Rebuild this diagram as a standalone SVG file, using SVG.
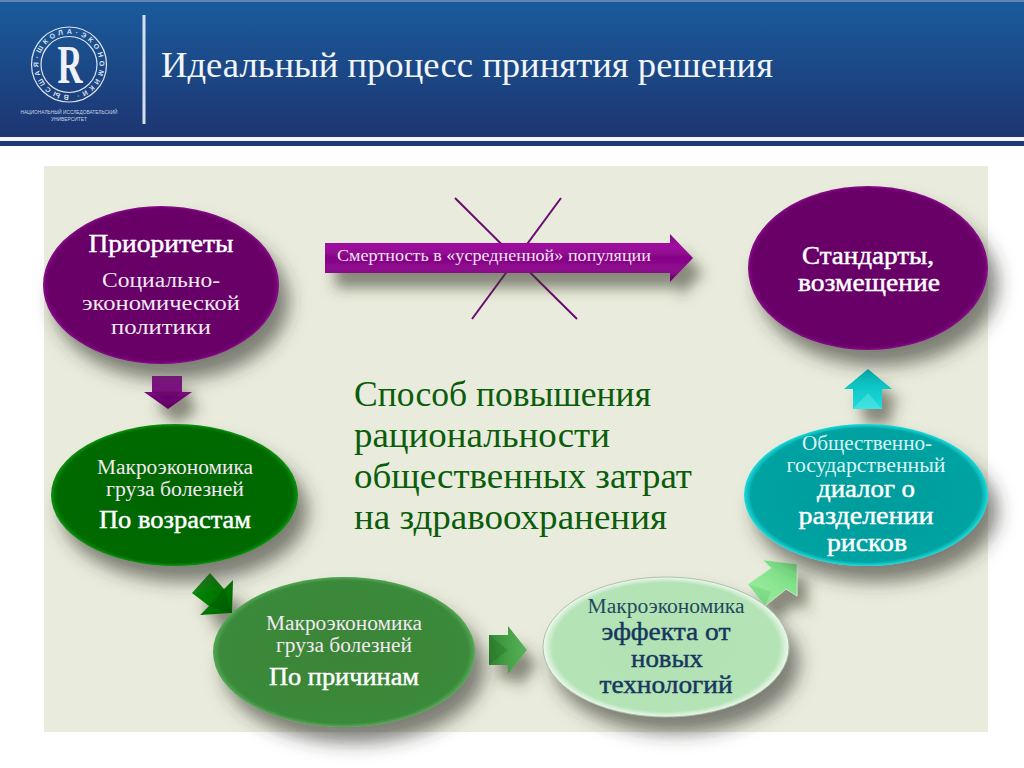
<svg xmlns="http://www.w3.org/2000/svg" xmlns:xlink="http://www.w3.org/1999/xlink" width="1024" height="768" viewBox="0 0 1024 768">
<style>
text{font-family:"Liberation Serif","Noto Sans CJK SC",serif;text-anchor:middle;fill:#fff}
.s{font-size:20px;fill:#f1e9f1}
.b{font-size:25px;stroke:#fff;stroke-width:.45}
.m{font-size:36px;fill:#0b5c0b;text-anchor:start}
.d{fill:#17375e;stroke:#17375e}
.l{font-family:"Liberation Sans",sans-serif;font-size:5px;fill:#c9d3e4}
</style>
<defs>
<linearGradient id="hdr" x1="0" y1="0" x2="0" y2="1"><stop offset="0" stop-color="#1a5b9c"/><stop offset="1" stop-color="#1d3571"/></linearGradient>
<radialGradient id="pur" cx=".5" cy=".5" r=".5"><stop offset="0" stop-color="#660066"/><stop offset=".95" stop-color="#680068"/><stop offset="1" stop-color="#820a82"/></radialGradient>
<radialGradient id="grn" cx=".5" cy=".5" r=".5"><stop offset="0" stop-color="#006400"/><stop offset=".95" stop-color="#006a00"/><stop offset="1" stop-color="#0c900c"/></radialGradient>
<radialGradient id="mid" cx=".5" cy=".5" r=".5"><stop offset="0" stop-color="#3a8438"/><stop offset=".95" stop-color="#3a8a3a"/><stop offset="1" stop-color="#55a856"/></radialGradient>
<radialGradient id="lit" cx=".5" cy=".5" r=".5"><stop offset="0" stop-color="#b2e2b4"/><stop offset=".92" stop-color="#b4e3b6"/><stop offset="1" stop-color="#eef9ee"/></radialGradient>
<radialGradient id="tea" cx=".5" cy=".5" r=".5"><stop offset="0" stop-color="#009c9c"/><stop offset=".94" stop-color="#00a2a2"/><stop offset="1" stop-color="#1cdcdc"/></radialGradient>
<linearGradient id="abar" x1="0" y1="0" x2="0" y2="1"><stop offset="0" stop-color="#7a0a7a"/><stop offset=".25" stop-color="#a010a0"/><stop offset=".5" stop-color="#860486"/><stop offset=".75" stop-color="#8f0a8f"/><stop offset="1" stop-color="#640264"/></linearGradient>
<linearGradient id="a1" x1="0" y1="0" x2="0" y2="1"><stop offset="0" stop-color="#9a10a0"/><stop offset="1" stop-color="#5c005c"/></linearGradient>
<linearGradient id="a2" x1="0" y1="0" x2="1" y2="1"><stop offset="0" stop-color="#0a9a0a"/><stop offset="1" stop-color="#005f00"/></linearGradient>
<linearGradient id="a3" x1="0" y1="0" x2="1" y2="0"><stop offset="0" stop-color="#338c33"/><stop offset="1" stop-color="#58b458"/></linearGradient>
<linearGradient id="a4" x1="0" y1="1" x2="1" y2="0"><stop offset="0" stop-color="#a6efa6"/><stop offset="1" stop-color="#6fdc7c"/></linearGradient>
<linearGradient id="a5" x1="0" y1="0" x2="0" y2="1"><stop offset="0" stop-color="#00b4b4"/><stop offset="1" stop-color="#20dcdc"/></linearGradient>
<filter id="sh" x="-30%" y="-30%" width="170%" height="180%"><feDropShadow dx="10" dy="16" stdDeviation="9" flood-color="#35352b" flood-opacity=".6"/></filter>
<filter id="sa" x="-40%" y="-80%" width="190%" height="340%"><feDropShadow dx="10" dy="15" stdDeviation="7" flood-color="#35352b" flood-opacity=".55"/></filter>
<path id="ring" d="M69 95a30.500 30.500 0 1 1 .01 0" fill="none"/>
</defs>

<rect width="1024" height="768" fill="#fff"/>
<g id="header">
<rect y="1" width="1024" height="136" fill="url(#hdr)"/>
<rect y="0" width="1024" height="2" fill="#5d86b5"/>
<rect y="137" width="1024" height="4" fill="#f4f6fa"/>
<rect y="141" width="1024" height="5" fill="#1d3a78"/>
<rect x="142.500" y="15" width="3" height="109" fill="#d6dff0"/>
</g>
<g id="logo">
<circle cx="69" cy="64.500" r="37.500" fill="none" stroke="#dbe3f0" stroke-width="1.200"/>
<circle cx="69" cy="64.500" r="28" fill="none" stroke="#dbe3f0" stroke-width="1.200"/>
<text font-size="7" font-weight="bold" style="fill:#dbe3f0;font-family:'Liberation Sans',sans-serif;text-anchor:start;letter-spacing:3.200px"><textPath xlink:href="#ring" href="#ring">ВЫСШАЯ·ШКОЛА·ЭКОНОМИКИ·</textPath></text>
<text x="70" y="83" font-size="54" font-weight="bold" style="fill:#eef2f8" textLength="25" lengthAdjust="spacingAndGlyphs">R</text>
<text x="69" y="114" class="l" textLength="97" lengthAdjust="spacingAndGlyphs">НАЦИОНАЛЬНЫЙ ИССЛЕДОВАТЕЛЬСКИЙ</text>
<text x="69" y="121" class="l" textLength="36" lengthAdjust="spacingAndGlyphs">УНИВЕРСИТЕТ</text>
</g>
<text id="title" x="161" y="77" style="text-anchor:start;font-size:36px;fill:#f2f5fa" textLength="612" lengthAdjust="spacingAndGlyphs">Идеальный процесс принятия решения</text>

<rect id="panel" x="44" y="166" width="944" height="566" fill="#e9ecdc"/>

<g id="cross" stroke="#6a0a70" stroke-width="2" fill="none">
<line x1="455" y1="198" x2="577" y2="319"/>
<line x1="561" y1="198" x2="472" y2="319"/>
</g>

<g id="connectors">
<polygon id="arrow-top" points="325,243 670,243 670,234 693,258 670,282 670,273 325,273" fill="url(#abar)" filter="url(#sa)"/>
<polygon id="c1" points="152,376 182,376 182,392 192,392 168,409 144,392 152,392" fill="url(#a1)" filter="url(#sa)"/>
<polygon points="152,392 182,392 168,400" fill="#4c004c" opacity=".25"/>
<polygon id="c2" points="192,593 210,573 224,589 233,580 232,613 200,615 209,606" fill="url(#a2)" filter="url(#sa)"/>
<polygon points="209,606 224,589 232,613" fill="#004a00" opacity=".3"/>
<polygon id="c3" points="489,635 508,635 508,626 527,650 508,674 508,665 489,665" fill="url(#a3)" filter="url(#sa)"/>
<polygon points="489,635 508,650 489,665" fill="#1f6f1f" opacity=".35"/>
<polygon id="c4" points="748,584 771,568 763,560 797,564 797,596 786,589 765,606" fill="url(#a4)" stroke="#d8f4d8" stroke-width=".6" filter="url(#sa)"/>
<polygon points="748,584 771,592 765,606" fill="#5fd070" opacity=".4"/>
<polygon id="c5" points="868,369 892,389 882,389 882,409 853,409 853,389 844,389" fill="url(#a5)" filter="url(#sa)"/>
<polygon points="853,409 868,393 882,409" fill="#7cf0f0" opacity=".35"/>
</g>
<text id="arrow-label" x="494" y="261" style="font-size:17px;fill:#f3e6f3" textLength="314" lengthAdjust="spacingAndGlyphs">Смертность в «усредненной» популяции</text>

<g id="priorities">
<ellipse cx="161" cy="285" rx="118" ry="79" fill="url(#pur)" filter="url(#sh)"/>
<text x="161" y="252" class="b" textLength="145" lengthAdjust="spacingAndGlyphs">Приоритеты</text>
<text x="161" y="287" class="s" textLength="118" lengthAdjust="spacingAndGlyphs">Социально-</text>
<text x="161" y="310" class="s" textLength="158" lengthAdjust="spacingAndGlyphs">экономической</text>
<text x="161" y="334" class="s" textLength="100" lengthAdjust="spacingAndGlyphs">политики</text>
</g>
<g id="age">
<ellipse cx="174.500" cy="495" rx="123.500" ry="71" fill="url(#grn)" filter="url(#sh)"/>
<text x="175" y="474" class="s" textLength="156" lengthAdjust="spacingAndGlyphs">Макроэкономика</text>
<text x="175" y="496" class="s" textLength="138" lengthAdjust="spacingAndGlyphs">груза болезней</text>
<text x="175" y="528" class="b" textLength="152" lengthAdjust="spacingAndGlyphs">По возрастам</text>
</g>
<g id="causes">
<ellipse cx="344" cy="652" rx="131" ry="75" fill="url(#mid)" filter="url(#sh)"/>
<text x="344" y="630" class="s" textLength="156" lengthAdjust="spacingAndGlyphs">Макроэкономика</text>
<text x="344" y="652" class="s" textLength="136" lengthAdjust="spacingAndGlyphs">груза болезней</text>
<text x="344" y="685" class="b" textLength="150" lengthAdjust="spacingAndGlyphs">По причинам</text>
</g>
<g id="technologies">
<ellipse cx="666" cy="647" rx="123" ry="70" fill="url(#lit)" stroke="#9aa89a" stroke-width=".7" filter="url(#sh)"/>
<text x="666" y="613" class="s" textLength="157" lengthAdjust="spacingAndGlyphs" style="fill:#1f4a5e">Макроэкономика</text>
<text x="666" y="640" class="b d" textLength="129" lengthAdjust="spacingAndGlyphs">эффекта от</text>
<text x="667" y="667" class="b d" textLength="72" lengthAdjust="spacingAndGlyphs">новых</text>
<text x="666" y="693" class="b d" textLength="133" lengthAdjust="spacingAndGlyphs">технологий</text>
</g>
<g id="dialogue">
<ellipse cx="866" cy="495" rx="122" ry="71" fill="url(#tea)" filter="url(#sh)"/>
<text x="867" y="450" class="s" textLength="130" lengthAdjust="spacingAndGlyphs" style="fill:#d8f4f4">Общественно-</text>
<text x="866" y="472" class="s" textLength="159" lengthAdjust="spacingAndGlyphs" style="fill:#d8f4f4">государственный</text>
<text x="866" y="497" class="b" textLength="98" lengthAdjust="spacingAndGlyphs">диалог о</text>
<text x="866" y="524" class="b" textLength="135" lengthAdjust="spacingAndGlyphs">разделении</text>
<text x="867" y="551" class="b" textLength="80" lengthAdjust="spacingAndGlyphs">рисков</text>
</g>
<g id="standards">
<ellipse cx="868" cy="268" rx="120" ry="82" fill="url(#pur)" filter="url(#sh)"/>
<text x="868" y="264" class="b" textLength="132" lengthAdjust="spacingAndGlyphs">Стандарты,</text>
<text x="869" y="291" class="b" textLength="142" lengthAdjust="spacingAndGlyphs">возмещение</text>
</g>
<g id="text-center">
<text x="354" y="406" class="m" textLength="297" lengthAdjust="spacingAndGlyphs">Способ повышения</text>
<text x="354" y="447" class="m" textLength="256" lengthAdjust="spacingAndGlyphs">рациональности</text>
<text x="354" y="488" class="m" textLength="338" lengthAdjust="spacingAndGlyphs">общественных затрат</text>
<text x="354" y="529" class="m" textLength="313" lengthAdjust="spacingAndGlyphs">на здравоохранения</text>
</g>
</svg>
